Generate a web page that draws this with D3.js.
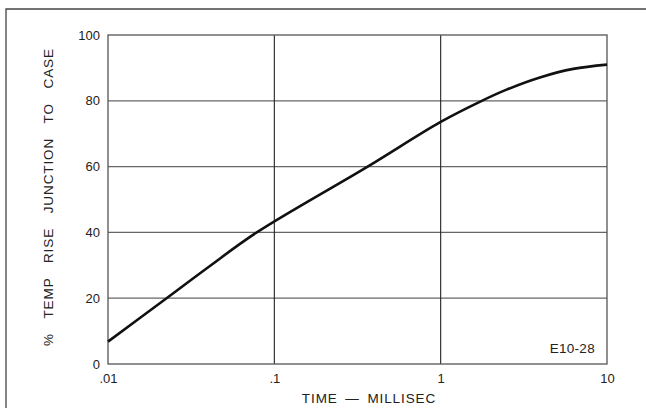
<!DOCTYPE html>
<html><head><meta charset="utf-8">
<script src="https://cdn.jsdelivr.net/npm/d3@7"></script>
<style>
html,body{margin:0;padding:0;background:#fff;}
svg{display:block;}
text{font-family:"Liberation Sans",Arial,sans-serif;fill:#222;}
</style></head>
<body>
<svg id="chart" width="646" height="408"></svg>
<script>
const timeMs = [0.01, 0.0225, 0.041, 0.0784, 0.364, 1, 1.767, 2.49, 3.95, 6.27, 10];
const tempRise = [6.8, 20, 29.8, 40, 60, 73.6, 80, 83.4, 87.1, 89.7, 91.0];
const xTicks = [0.01, 0.1, 1, 10];
const xTickLabels = [".01", ".1", "1", "10"];
const yTicks = [0, 20, 40, 60, 80, 100];
const xTitle = "TIME \u2014 MILLISEC";
const yTitle = "% TEMP RISE JUNCTION TO CASE";
const note = "E10-28";

const svg = d3.select("#chart");
const L = 108, R = 607, T = 35, B = 364;
const x = d3.scaleLog().domain([0.01, 10]).range([L, R]);
const y = d3.scaleLinear().domain([0, 100]).range([B, T]);

// outer frame
svg.append("path").attr("d", `M6,408 L6,9 L646,9`).attr("fill","none").attr("stroke","#444").attr("stroke-width",1.3);

// grid
const g = svg.append("g");
g.selectAll(".hg").data(yTicks.slice(1, -1)).join("line")
  .attr("x1", L).attr("x2", R).attr("y1", d => y(d)).attr("y2", d => y(d))
  .attr("stroke", "#666").attr("stroke-width", 1.2);
g.selectAll(".vg").data(xTicks.slice(1, -1)).join("line")
  .attr("y1", T).attr("y2", B).attr("x1", d => x(d)).attr("x2", d => x(d))
  .attr("stroke", "#222").attr("stroke-width", 1.1);
g.append("rect").attr("x", L).attr("y", T).attr("width", R - L).attr("height", B - T)
  .attr("fill", "none").attr("stroke", "#555").attr("stroke-width", 1.3);

// axes labels via d3 axes (no tick lines)
const yAxis = d3.axisLeft(y).tickValues(yTicks).tickSize(0).tickPadding(8);
const ya = svg.append("g").attr("transform", `translate(${L},0)`).call(yAxis);
ya.select(".domain").remove();
ya.selectAll("text").style("font-size", "13px").attr("font-family", "Liberation Sans, Arial, sans-serif").attr("fill", "#222");

const xAxis = d3.axisBottom(x).tickValues(xTicks).tickFormat((d, i) => xTickLabels[i]).tickSize(0).tickPadding(10);
const xa = svg.append("g").attr("transform", `translate(0,${B})`).call(xAxis);
xa.select(".domain").remove();
xa.selectAll("text").style("font-size", "13px").attr("font-family", "Liberation Sans, Arial, sans-serif").attr("fill", "#222");

// curve
const line = d3.line().x((d, i) => x(d)).y((d, i) => y(tempRise[i])).curve(d3.curveCatmullRom.alpha(0.5));
svg.append("path").attr("d", line(timeMs)).attr("fill", "none").attr("stroke", "#111").attr("stroke-width", 2.6);

// titles
svg.append("text").attr("x", 369).attr("y", 403).attr("text-anchor", "middle")
  .style("font-size", "13.5px").style("letter-spacing", "0.9px").style("word-spacing", "3px").text(xTitle);
svg.append("text").attr("transform", "translate(53,197) rotate(-90)").attr("text-anchor", "middle")
  .style("font-size", "13.5px").style("letter-spacing", "0.9px").style("word-spacing", "10px").text(yTitle);
svg.append("text").attr("x", 595).attr("y", 353).attr("text-anchor", "end")
  .style("font-size", "13.5px").style("letter-spacing", "0.3px").text(note);
</script>
</body></html>
